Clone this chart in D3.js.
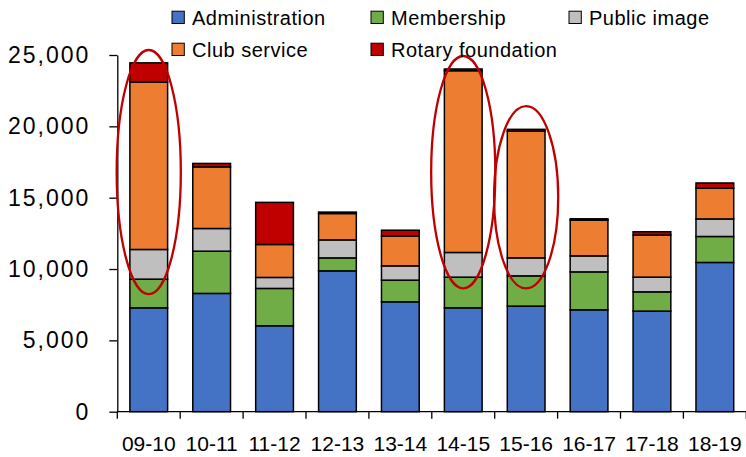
<!DOCTYPE html>
<html>
<head>
<meta charset="utf-8">
<script src="https://cdn.jsdelivr.net/npm/d3@7"></script>
<style>
  html, body { margin: 0; padding: 0; background: #fff; }
  svg { display: block; }
  text { font-family: "Liberation Sans", Arial, sans-serif; fill: #000; }
</style>
</head>
<body>
<svg id="chart" width="746" height="457"></svg>
<script>
// ---- data ----
const categories = ["09-10","10-11","11-12","12-13","13-14","14-15","15-16","16-17","17-18","18-19"];
const seriesNames = ["Administration","Membership","Public image","Club service","Rotary foundation"];
const administration   = [7280, 8290, 6020, 9870, 7700, 7280, 7400, 7140, 7050, 10460];
const membership       = [2010, 2960, 2620,  910, 1520, 2150, 2120, 2660, 1350, 1820];
const publicImage      = [2080, 1590,  770, 1260, 1000, 1730, 1260, 1120, 1030, 1230];
const clubService      = [11730, 4320, 2310, 1850, 2080, 12740, 8890, 2500, 2950, 2150];
const rotaryFoundation = [1350,  240, 2950,  100,  420,  120,  120,  100,  230,  370];
const yTicks = [0, 5000, 10000, 15000, 20000, 25000];
// highlighted bars (red ellipses): category, top value, bottom value
const highlightCategories = ["09-10","14-15","15-16"];
const highlightTop    = [25350, 24930, 21420];
const highlightBottom = [8240, 8640, 8640];

const colors = ["#4472C4","#70AD47","#BFBFBF","#ED7D31","#C00000"];
const seriesValues = [administration, membership, publicImage, clubService, rotaryFoundation];

(function () {
// ---- build table ----
const rows = categories.map((c, i) => {
  const r = { cat: c };
  seriesNames.forEach((s, k) => r[s] = seriesValues[k][i]);
  return r;
});
const stack = d3.stack().keys(seriesNames)(rows);

const svg = d3.select("#chart");
const mLeft = 117.3, mRight = 746.3, mTop = 55, mBottom = 411.7;

const x = d3.scaleBand().domain(categories).range([mLeft, mRight])
  .paddingInner(0.4).paddingOuter(0.2);
const y = d3.scaleLinear().domain([0, 25000]).range([mBottom, mTop]);

// bars
const g = svg.append("g");
stack.forEach((layer, k) => {
  g.append("g").selectAll("rect").data(layer).join("rect")
    .attr("x", d => x(d.data.cat))
    .attr("width", x.bandwidth())
    .attr("y", d => y(d[1]))
    .attr("height", d => y(d[0]) - y(d[1]))
    .attr("fill", colors[k])
    .attr("stroke", "#000")
    .attr("stroke-width", 1.5);
});

// y axis
const yAxis = svg.append("g").attr("transform", `translate(${mLeft},0)`)
  .call(d3.axisLeft(y).tickValues(yTicks).tickFormat(d3.format(",")).tickSize(8).tickSizeOuter(0).tickPadding(19));
yAxis.select(".domain").attr("stroke", "#000").attr("stroke-width", 1.3);
yAxis.selectAll(".tick line").attr("stroke", "#000").attr("stroke-width", 1.3);
yAxis.selectAll(".tick text").attr("font-size", 23).attr("letter-spacing", 2)
  .attr("font-family", "Liberation Sans, Arial, sans-serif").attr("fill", "#000");

// x axis (labels centred, ticks on band boundaries)
const xAxis = svg.append("g").attr("transform", `translate(0,${mBottom})`)
  .call(d3.axisBottom(x).tickSize(0).tickSizeOuter(0).tickPadding(24));
xAxis.select(".domain").attr("stroke", "#000").attr("stroke-width", 1.3)
  .attr("d", `M${mLeft},0H${mRight}`);
xAxis.selectAll(".tick text").attr("font-size", 21)
  .attr("font-family", "Liberation Sans, Arial, sans-serif").attr("fill", "#000");
const bnds = d3.range(categories.length + 1).map(i => mLeft + i * x.step());
xAxis.selectAll("line.bnd").data(bnds).join("line").attr("class", "bnd")
  .attr("x1", d => d).attr("x2", d => d).attr("y1", 0).attr("y2", 7)
  .attr("stroke", "#000").attr("stroke-width", 1.3);

// highlight ellipses
svg.append("g").selectAll("ellipse").data(highlightCategories).join("ellipse")
  .attr("cx", d => x(d) + x.bandwidth() / 2)
  .attr("cy", (d, i) => (y(highlightTop[i]) + y(highlightBottom[i])) / 2)
  .attr("rx", x.bandwidth() * 0.85)
  .attr("ry", (d, i) => (y(highlightBottom[i]) - y(highlightTop[i])) / 2)
  .attr("fill", "none")
  .attr("stroke", "#C00000")
  .attr("stroke-width", 2.3);

// legend
const legendPos = [[172, 17.5], [371, 17.5], [569, 17.5], [172, 49.5], [371, 49.5]];
const lg = svg.append("g").selectAll("g").data(seriesNames).join("g")
  .attr("transform", (d, i) => `translate(${legendPos[i][0]},${legendPos[i][1]})`);
lg.append("rect").attr("x", 0).attr("y", -6.3).attr("width", 12.3).attr("height", 12.3)
  .attr("fill", (d, i) => colors[i]).attr("stroke", "#000").attr("stroke-width", 1);
lg.append("text").attr("x", 20).attr("dy", "0.35em").attr("font-size", 20)
  .attr("letter-spacing", 0.5).text(d => d);
})();
</script>
</body>
</html>
